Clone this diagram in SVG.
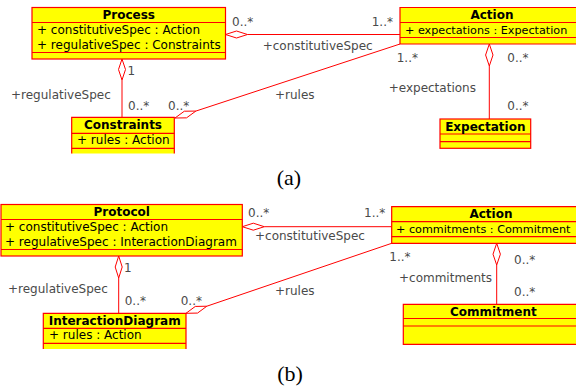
<svg xmlns="http://www.w3.org/2000/svg" width="576" height="387" viewBox="0 0 576 387">
<style>
.box{fill:#ffff00;stroke:#ff0000;stroke-width:1.2}
.fill{fill:#ffff00}
.sep{stroke:#ff0000;stroke-width:1.2;fill:none}
.ln{stroke:#ff0000;stroke-width:1;fill:none}
.dia{fill:#ffffff;stroke:#ff0000;stroke-width:1}
.h{font-family:"DejaVu Sans",sans-serif;font-size:12px;font-weight:bold;text-anchor:middle;fill:#000}
.a{font-family:"DejaVu Sans",sans-serif;font-size:12px;fill:#000}
.as{font-family:"DejaVu Sans",sans-serif;font-size:11.2px;fill:#000}
.lbl{font-family:"DejaVu Sans",sans-serif;font-size:12px;fill:#4a4a4a}
.cap{font-family:"Liberation Serif",serif;font-size:22px;text-anchor:middle;fill:#000}
</style>
<rect width="576" height="387" fill="#ffffff"/>

<g id="connectors">
  <!-- (a) Process - Action -->
  <polygon class="dia" points="225.5,34.5 236.5,31 247.5,34.5 236.5,38"/>
  <line class="ln" x1="247.5" y1="34.5" x2="400" y2="34.5"/>
  <!-- (a) Process - Constraints -->
  <polygon class="dia" points="122,59 125.5,69.5 122,80 118.5,69.5"/>
  <line class="ln" x1="122" y1="80" x2="122" y2="117.3"/>
  <!-- (a) Constraints - Action (rules) -->
  <polygon class="dia" points="175,118 186.54,117.85 195.88,111.07 184.34,111.21"/>
  <line class="ln" x1="195.88" y1="111.07" x2="400" y2="44"/>
  <!-- (a) Action - Expectation -->
  <polygon class="dia" points="489.3,44 493,55 489.3,66 485.6,55"/>
  <line class="ln" x1="489.3" y1="66" x2="489.3" y2="119"/>

  <!-- (b) Protocol - Action -->
  <polygon class="dia" points="242.3,226.7 253.3,223.2 264.3,226.7 253.3,230.2"/>
  <line class="ln" x1="264.3" y1="226.7" x2="391.7" y2="226.7"/>
  <!-- (b) Protocol - InteractionDiagram -->
  <polygon class="dia" points="118.7,256 122.2,267 118.7,278 115.2,267"/>
  <line class="ln" x1="118.7" y1="278" x2="118.7" y2="313.3"/>
  <!-- (b) InteractionDiagram - Action (rules) -->
  <polygon class="dia" points="186,313.3 197.54,313.07 206.83,306.21 195.28,306.45"/>
  <line class="ln" x1="206.83" y1="306.21" x2="391.7" y2="243.3"/>
  <!-- (b) Action - Commitment -->
  <polygon class="dia" points="496.7,243.3 500.4,254.2 496.7,265 493,254.2"/>
  <line class="ln" x1="496.7" y1="265" x2="496.7" y2="304.3"/>

  <g id="labels-a">
    <text class="lbl" x="232" y="26">0..*</text>
    <text class="lbl" x="371.7" y="26">1..*</text>
    <text class="lbl" x="262.7" y="50">+constitutiveSpec</text>
    <text class="lbl" x="127.5" y="75">1</text>
    <text class="lbl" x="11" y="99">+regulativeSpec</text>
    <text class="lbl" x="128" y="110">0..*</text>
    <text class="lbl" x="168" y="110">0..*</text>
    <text class="lbl" x="275" y="99">+rules</text>
    <text class="lbl" x="396.7" y="61.7">1..*</text>
    <text class="lbl" x="507.3" y="62">0..*</text>
    <text class="lbl" x="388.7" y="92">+expectations</text>
    <text class="lbl" x="507.3" y="110">0..*</text>
  </g>
  <g id="labels-b">
    <text class="lbl" x="248" y="216.7">0..*</text>
    <text class="lbl" x="364" y="216.7">1..*</text>
    <text class="lbl" x="255" y="240">+constitutiveSpec</text>
    <text class="lbl" x="124" y="271.7">1</text>
    <text class="lbl" x="8" y="293.3">+regulativeSpec</text>
    <text class="lbl" x="124.7" y="305">0..*</text>
    <text class="lbl" x="180.7" y="305">0..*</text>
    <text class="lbl" x="275" y="295">+rules</text>
    <text class="lbl" x="389.3" y="260.7">1..*</text>
    <text class="lbl" x="514" y="264">0..*</text>
    <text class="lbl" x="399" y="282.3">+commitments</text>
    <text class="lbl" x="514" y="296">0..*</text>
  </g>
</g>

<g id="process">
  <rect class="box" x="32" y="7.5" width="193.5" height="51.5"/>
  <line class="sep" x1="32" y1="22.5" x2="225.5" y2="22.5"/>
  <line class="sep" x1="32" y1="52.5" x2="225.5" y2="52.5"/>
  <text class="h" x="128.7" y="19">Process</text>
  <text class="a" x="37" y="33.5">+ constitutiveSpec : Action</text>
  <text class="a" x="37" y="48.5">+ regulativeSpec : Constraints</text>
</g>

<g id="action-a">
  <rect class="fill" x="400" y="7.5" width="176" height="36.5"/>
  <path class="sep" d="M576,7.5 H400 V44 H576"/>
  <line class="sep" x1="400" y1="22.5" x2="576" y2="22.5"/>
  <line class="sep" x1="400" y1="37.5" x2="576" y2="37.5"/>
  <text class="h" x="492" y="19">Action</text>
  <text class="as" x="405" y="33.5">+ expectations : Expectation</text>
</g>

<g id="constraints">
  <rect class="fill" x="71.7" y="117.3" width="102.6" height="36.2"/>
  <path class="sep" d="M71.7,153.5 V117.3 H174.3 V153.5"/>
  <line class="sep" x1="71.7" y1="133.3" x2="174.3" y2="133.3"/>
  <line class="sep" x1="71.7" y1="148.3" x2="174.3" y2="148.3"/>
  <text class="h" x="123" y="129">Constraints</text>
  <text class="a" x="77" y="144">+ rules : Action</text>
</g>

<g id="expectation">
  <rect class="box" x="440" y="119" width="90.7" height="29.3"/>
  <line class="sep" x1="440" y1="134" x2="530.7" y2="134"/>
  <line class="sep" x1="440" y1="141.7" x2="530.7" y2="141.7"/>
  <text class="h" x="485.3" y="131">Expectation</text>
</g>

<g id="protocol">
  <rect class="box" x="1" y="204.5" width="241.3" height="51.5"/>
  <line class="sep" x1="1" y1="219.5" x2="242.3" y2="219.5"/>
  <line class="sep" x1="1" y1="249.5" x2="242.3" y2="249.5"/>
  <text class="h" x="121.7" y="216">Protocol</text>
  <text class="a" x="5" y="230.5">+ constitutiveSpec : Action</text>
  <text class="a" x="5" y="245.5">+ regulativeSpec : InteractionDiagram</text>
</g>

<g id="action-b">
  <rect class="fill" x="391.7" y="206.7" width="184.3" height="36.6"/>
  <path class="sep" d="M576,206.7 H391.7 V243.3 H576"/>
  <line class="sep" x1="391.7" y1="221.7" x2="576" y2="221.7"/>
  <line class="sep" x1="391.7" y1="236.7" x2="576" y2="236.7"/>
  <text class="h" x="491" y="218">Action</text>
  <text class="as" x="396" y="233">+ commitments : Commitment</text>
</g>

<g id="interactiondiagram">
  <rect class="fill" x="43.3" y="313.3" width="142.7" height="35.7"/>
  <path class="sep" d="M43.3,349 V313.3 H186 V349"/>
  <line class="sep" x1="43.3" y1="328.3" x2="186" y2="328.3"/>
  <line class="sep" x1="43.3" y1="343.3" x2="186" y2="343.3"/>
  <text class="h" x="114.7" y="325">InteractionDiagram</text>
  <text class="a" x="49" y="339">+ rules : Action</text>
</g>

<g id="commitment">
  <rect class="fill" x="403.3" y="304.3" width="172.7" height="40"/>
  <path class="sep" d="M576,304.3 H403.3 V344.3 H576"/>
  <line class="sep" x1="403.3" y1="318.5" x2="576" y2="318.5"/>
  <line class="sep" x1="403.3" y1="326" x2="576" y2="326"/>
  <text class="h" x="493.3" y="316">Commitment</text>
</g>

<text class="cap" x="289" y="185">(a)</text>
<text class="cap" x="290" y="381">(b)</text>
</svg>
